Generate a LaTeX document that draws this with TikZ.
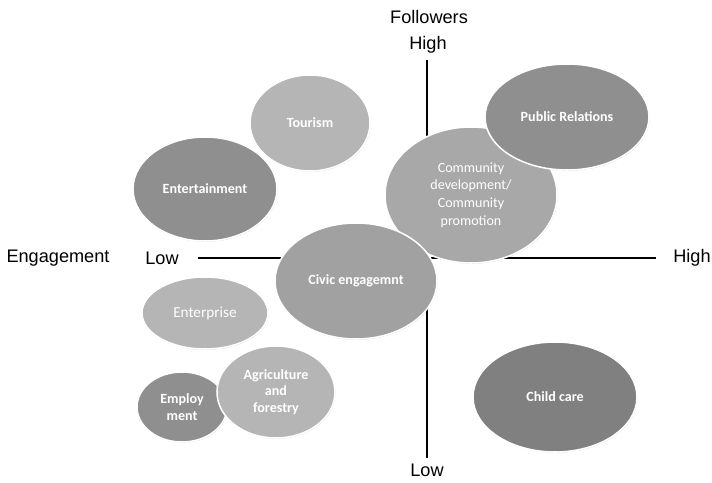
\documentclass[tikz,border=0pt]{standalone}
\usepackage{fontspec}
\setmainfont{Carlito}
\newfontfamily\axisfont{Liberation Sans}
\usetikzlibrary{shapes.geometric,shadows}
\definecolor{bubdark}{gray}{0.50}
\definecolor{bubmid}{gray}{0.56}
\definecolor{bubcivic}{gray}{0.63}
\definecolor{bubcomm}{gray}{0.66}
\definecolor{bublight}{gray}{0.71}
\begin{document}
\begin{tikzpicture}[x=0.03cm,y=-0.03cm,
 bubble/.style={ellipse,draw=white,line width=1.3pt,inner sep=0pt,text=white,align=center,
  font=\bfseries\fontsize{12}{14.5}\selectfont,
  drop shadow={opacity=0.3,shadow xshift=0.5pt,shadow yshift=-0.7pt,fill=gray}},
 axislabel/.style={font=\axisfont\fontsize{15.5}{18}\selectfont,inner sep=1pt}]
 \useasboundingbox (0,0) rectangle (712,482);
 % axes
 \coordinate (ytop) at (427,60);
 \coordinate (ybot) at (427,458);
 \coordinate (xleft) at (198,258);
 \coordinate (xright) at (656,258);
 \draw[line width=1.1pt] (ytop) -- (ybot);
 \draw[line width=1.1pt] (xleft) -- (xright);
 \node[axislabel] (followers) at (429,17) {Followers};
 \node[axislabel] (yhigh) at (428,45) {High};
 \node[axislabel] (ylow) at (427,470) {Low};
 \node[axislabel] (engagement) at (58,258) {Engagement};
 \node[axislabel] (xlow) at (162,258) {Low};
 \node[axislabel] (xhigh) at (692,258) {High};
 % bubbles
 \node[bubble,fill=bublight,minimum width=3.6cm,minimum height=2.88cm] (tourism) at (310,123) {Tourism};
 \node[bubble,fill=bubmid,minimum width=4.32cm,minimum height=3.12cm] (entertain) at (205,189) {Entertainment};
 \node[bubble,fill=bubcomm,minimum width=5.16cm,minimum height=4.08cm,font=\fontsize{12}{15}\selectfont] (community) at (471,195) {Community\\development/\\Community\\promotion};
 \node[bubble,fill=bubmid,minimum width=4.92cm,minimum height=3.18cm] (pr) at (567,117) {Public Relations};
 \node[bubble,fill=bubcivic,minimum width=4.86cm,minimum height=3.48cm] (civic) at (356,281) {Civic engagemnt};
 \node[bubble,fill=bublight,minimum width=3.78cm,minimum height=2.16cm,font=\fontsize{13}{15}\selectfont] (enterprise) at (205,313) {Enterprise};
 \node[bubble,fill=bubmid,minimum width=2.7cm,minimum height=2.1cm,font=\bfseries\fontsize{12}{14}\selectfont] (employ) at (182,407) {Employ\\ment};
 \node[bubble,fill=bublight,minimum width=3.54cm,minimum height=2.76cm,font=\bfseries\fontsize{12}{14}\selectfont] (agri) at (276,392) {Agriculture\\and\\forestry};
 \node[bubble,fill=bubdark,minimum width=4.92cm,minimum height=3.3cm] (childcare) at (555,397) {Child care};
\end{tikzpicture}
\end{document}
